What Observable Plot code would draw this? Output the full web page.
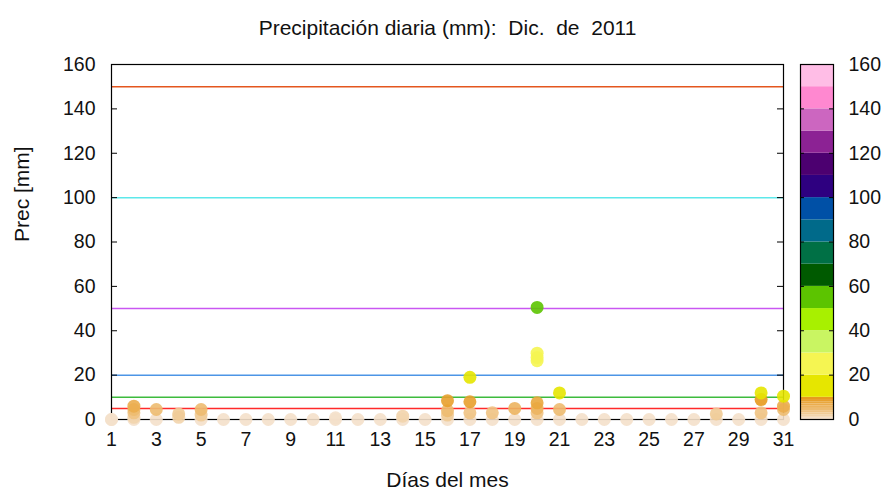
<!DOCTYPE html>
<html><head><meta charset="utf-8">
<script src="https://cdn.jsdelivr.net/npm/d3@7"></script>
<script src="https://cdn.jsdelivr.net/npm/@observablehq/plot@0.6"></script>
<style>
html,body{margin:0;padding:0;background:#fff;}
#wrap{position:relative;width:890px;height:496px;overflow:hidden;}
#wrap svg{position:absolute;top:0;}
</style></head>
<body><div id="wrap"></div>
<script>
// ---- data ----
const obsDay  = [1,1, 2,2,2,2,2, 3,3, 4,4, 5,5,5, 6,7,8,9,10, 11,11, 12,13, 14,14, 15,
  16,16,16,16, 17,17,17,17, 18,18, 19,19, 20,20,20,20,20,20,20,20, 21,21,21,
  22,23,24,25,26,27, 28,28, 29, 30,30,30,30, 31,31,31,31];
const obsPrec = [0,0, 0,1,3,4.5,6, 0,4.5, 1,2.5, 0,2,4.5, 0,0,0,0,0, 0,0.8, 0,0, 0,1.5, 0,
  0,2,4,8.5, 0,3,8,19, 0,3, 0,5, 0,3,5,7.5,26.5,28,29.9,50.5, 0,4.5,12,
  0,0,0,0,0,0, 0,2.5, 0, 0,3,9,12, 0,4.5,6,10.5];
const refValues = [150, 100, 50, 20, 10, 5];
const refColors = ["#e4561e", "#5de8ea", "#c957f2", "#4d95e6", "#3dbb3d", "#ff2a2a"];
const xTicks = [1,3,5,7,9,11,13,15,17,19,21,23,25,27,29,31];
const yTicks = [0,20,40,60,80,100,120,140,160];
const bandEdges = [0,1,2,3,4,5,6,7,8,9,10,20,30,40,50,60,70,80,90,100,110,120,130,140,150,160];
const upperColors = ["#e6e600","#f5f552","#c9f562","#a8f000","#5cc400","#005a00","#007045",
  "#006a8a","#0050a6","#2e0080","#4c0070","#8c2294","#cc66c0","#ff88d0","#ffbde6"];
const title = "Precipitación diaria (mm):  Dic.  de  2011";
const xLabel = "Días del mes";
const yLabel = "Prec [mm]";

// ---- styles ----
const lowInterp = d3.interpolateRgb("#f4e0ca", "#e79a1e");
const lowColors = d3.range(10).map(i => lowInterp(Math.pow(i / 9, 0.8)));
const bandColors = lowColors.concat(upperColors);
const thresholds = bandEdges.slice(1, -1);
const font = "'Liberation Sans', Arial, sans-serif";
const fs = 19.5;
const lfs = 21;

const obs = obsDay.map((d, i) => ({day: d, prec: obsPrec[i]}));
const refs = refValues.map((v, i) => ({v, c: refColors[i]}));
const bands = bandColors.map((c, i) => ({y1: bandEdges[i], y2: bandEdges[i + 1], c}));

const xDom = [1, 31];
const tickLen = 6 * (xDom[1] - xDom[0]) / (890 - 111 - 107);

const main = Plot.plot({
  width: 890, height: 496,
  marginTop: 64, marginRight: 107, marginBottom: 77, marginLeft: 111,
  style: {fontFamily: font, fontSize: fs + "px", color: "#111", background: "transparent"},
  x: {domain: xDom},
  y: {domain: [0, 160]},
  color: {type: "threshold", domain: thresholds, range: bandColors},
  marks: [
    Plot.ruleY(refs, {y: "v", stroke: "c", strokeWidth: 1.5}),
    Plot.ruleY(yTicks, {y: d => d, x1: xDom[0], x2: xDom[0] + tickLen, stroke: "#000"}),
    Plot.ruleY(yTicks, {y: d => d, x1: xDom[1] - tickLen, x2: xDom[1], stroke: "#000"}),
    Plot.frame({stroke: "#000", strokeWidth: 1.2}),
    Plot.dot(obs, {x: "day", y: "prec", r: 6.5, fill: "prec", fillOpacity: 0.9, stroke: "none"}),
    Plot.axisX({ticks: xTicks, tickSize: 0, tickPadding: 13, tickFormat: d => d, label: null, fontSize: fs}),
    Plot.axisY({ticks: yTicks, tickSize: 0, tickPadding: 16, label: null, fontSize: fs}),
    Plot.text([title], {frameAnchor: "top", dy: -44, text: d => d, fontSize: lfs, fill: "#111"}),
    Plot.text([xLabel], {frameAnchor: "bottom", dy: 67, text: d => d, fontSize: lfs, fill: "#111"}),
    Plot.text([yLabel], {frameAnchor: "left", dx: -89, rotate: -90, text: d => d, fontSize: lfs, fill: "#111"})
  ]
});
main.style.left = "0px";
main.querySelectorAll("text").forEach(t => { t.setAttribute("xml:space", "preserve"); t.style.whiteSpace = "pre"; });

const bar = Plot.plot({
  width: 100, height: 496,
  marginTop: 64, marginRight: 57, marginBottom: 77, marginLeft: 10,
  style: {fontFamily: font, fontSize: fs + "px", color: "#111", background: "transparent"},
  x: {domain: [0, 1], axis: null},
  y: {domain: [0, 160]},
  marks: [
    Plot.rectY(bands, {x1: 0, x2: 1, y1: "y1", y2: "y2", fill: "c"}),
    Plot.ruleY(yTicks, {y: d => d, x1: 0, x2: 0.12, stroke: "#000"}),
    Plot.ruleY(yTicks, {y: d => d, x1: 0.88, x2: 1, stroke: "#000"}),
    Plot.frame({stroke: "#000", strokeWidth: 1.2}),
    Plot.axisY({anchor: "right", ticks: yTicks, tickSize: 0, tickPadding: 15, label: null, fontSize: fs})
  ]
});
bar.style.left = "790px";

const wrap = document.getElementById("wrap");
wrap.appendChild(main);
wrap.appendChild(bar);
</script></body></html>
